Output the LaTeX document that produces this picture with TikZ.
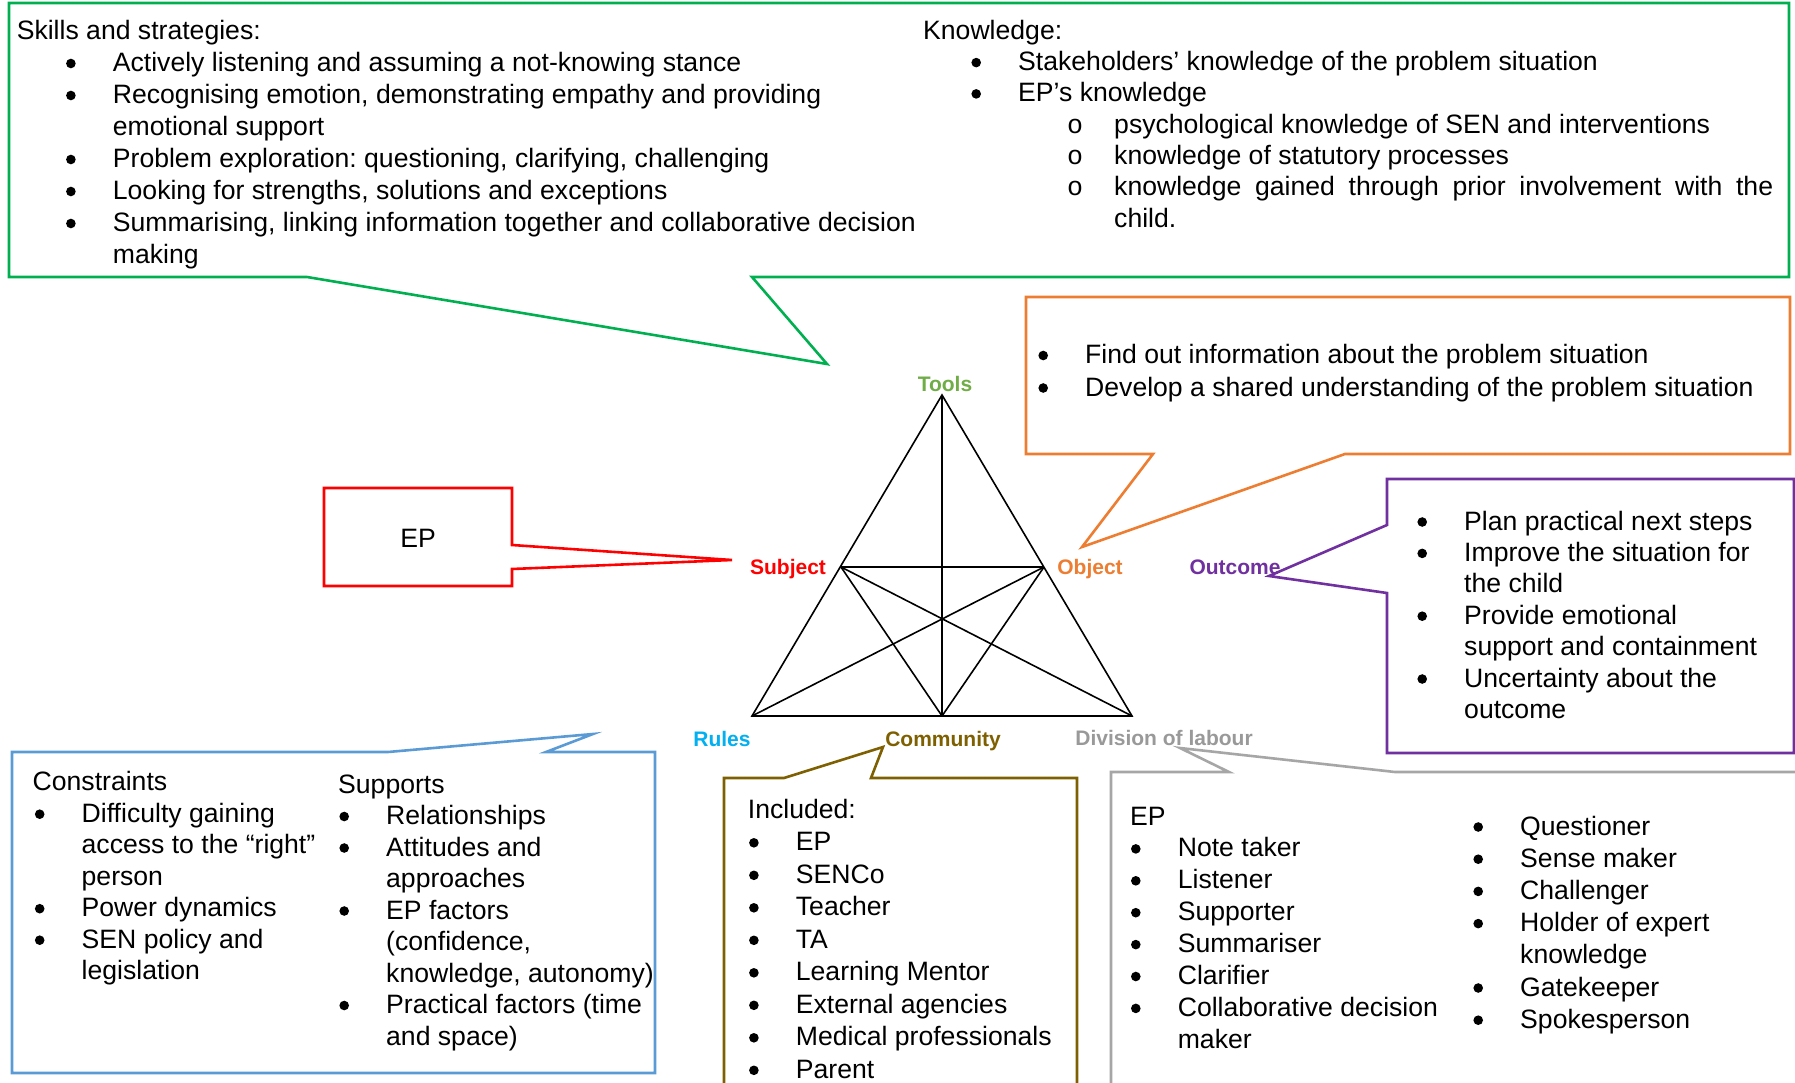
\documentclass[tikz,border=0pt]{standalone}
\usepackage{fontspec}
\setmainfont{Liberation Sans}
\newfontfamily\ringfont{Liberation Mono}
\frenchspacing

% outline and label colours
\definecolor{cgreen}{HTML}{00B050}
\definecolor{ctools}{HTML}{70AD47}
\definecolor{corange}{HTML}{ED7D31}
\definecolor{cred}{HTML}{FF0000}
\definecolor{cpurple}{HTML}{7030A0}
\definecolor{crules}{HTML}{00B0F0}
\definecolor{cblue}{HTML}{5B9BD5}
\definecolor{cbrown}{HTML}{7F6000}
\definecolor{cgrey}{HTML}{A6A6A6}
\definecolor{cgreylbl}{HTML}{999999}

% bullet list helpers: \tind = indent of item text, \sind = indent of sub-item text
\newlength\tind
\newlength\sind
\newcommand{\bltdot}{\tikz[baseline=0pt]\fill (0pt,8pt) circle (4.8pt);}
\newcommand{\ringmark}{{\ringfont o}}
\newcommand{\blt}{\hspace*{\tind}\llap{\makebox[0pt][c]{\bltdot}\hspace*{42pt}}}
\newcommand{\bltcont}{\hspace*{\tind}}
\newcommand{\sublt}{\hspace*{\sind}\llap{\makebox[0pt][c]{\ringmark}\hspace*{39pt}}}
\newcommand{\subcont}{\hspace*{\sind}}

\begin{document}
\begin{tikzpicture}[x=1pt,y=-1pt,
  callout/.style={line width=2.6pt, line join=miter},
  tri/.style={line width=1.6pt, black},
  txt/.style={anchor=base west, inner sep=0pt, font=\fontsize{26.6}{32}\selectfont},
  lbl/.style={anchor=base, inner sep=0pt, font=\fontsize{21}{24}\selectfont\bfseries}]

\useasboundingbox (0,0) rectangle (1795,1083);
\fill[white] (0,0) rectangle (1795,1083);
\clip (0,0) rectangle (1795,1083);

% ---------- callout outlines ----------
\draw[callout, cgreen] (9,3) -- (1789,3) -- (1789,277) -- (752,277) -- (827,364)
  -- (307,277) -- (9,277) -- cycle;
\draw[callout, corange] (1026,297) -- (1790,297) -- (1790,454) -- (1345,454)
  -- (1082,547) -- (1153,454) -- (1026,454) -- cycle;
\draw[callout, cred] (324,488) -- (512,488) -- (512,545) -- (732,560)
  -- (512,569) -- (512,586) -- (324,586) -- cycle;
\draw[callout, cpurple] (1387,479) -- (1794,479) -- (1794,753) -- (1387,753)
  -- (1387,593) -- (1269,576) -- (1387,525) -- cycle;
\draw[callout, cblue] (12,752) -- (388,752) -- (593,734) -- (546,752)
  -- (655,752) -- (655,1073) -- (12,1073) -- cycle;
\draw[callout, cbrown] (724,778) -- (784,778) -- (883,747) -- (871,778)
  -- (1077,778) -- (1077,1110) -- (724,1110) -- cycle;
\draw[callout, cgrey] (1111,772) -- (1229,772) -- (1180,748) -- (1395,772)
  -- (1810,772) -- (1810,1110) -- (1111,1110) -- cycle;

% ---------- activity triangle ----------
\coordinate (T) at (942,395);
\coordinate (S) at (841,567);
\coordinate (O) at (1044,567);
\coordinate (R) at (752,716);
\coordinate (C) at (942,716);
\coordinate (D) at (1132,716);
\draw[tri] (T) -- (R) -- (D) -- cycle;
\draw[tri] (T) -- (C);
\draw[tri] (S) -- (O);
\draw[tri] (S) -- (C);
\draw[tri] (S) -- (D);
\draw[tri] (O) -- (R);
\draw[tri] (O) -- (C);

\node[lbl, ctools]   (lTools) at (945,391)  {Tools};
\node[lbl, cred]     (lSubj)  at (788,574)  {Subject};
\node[lbl, corange]  (lObj)   at (1090,574) {Object};
\node[lbl, cpurple]  (lOut)   at (1235,574) {Outcome};
\node[lbl, crules]   (lRules) at (722,746)  {Rules};
\node[lbl, cbrown]   (lComm)  at (943,746)  {Community};
\node[lbl, cgreylbl] (lDiv)   at (1164,745) {Division of labour};

% ---------- texts ----------
\node[txt] (skills) at (16.6,39.5) {\setlength\tind{96.1pt}%
\begin{tabular}[t]{@{}l@{}}
Skills and strategies:\\
\blt Actively listening and assuming a not-knowing stance\\
\blt Recognising emotion, demonstrating empathy and providing\\
\bltcont emotional support\\
\blt Problem exploration: questioning, clarifying, challenging\\
\blt Looking for strengths, solutions and exceptions\\
\blt Summarising, linking information together and collaborative decision\\
\bltcont making
\end{tabular}};

\node[txt, font=\fontsize{26.6}{31.3}\selectfont] (knowledge) at (923,39.3)
{\setlength\tind{95pt}\setlength\sind{191pt}%
\begin{tabular}[t]{@{}l@{}}
Knowledge:\\
\blt Stakeholders’ knowledge of the problem situation\\
\blt EP’s knowledge\\
\sublt psychological knowledge of SEN and interventions\\
\sublt knowledge of statutory processes\\
\sublt \makebox[659pt][s]{knowledge gained through prior involvement with the}\\
\subcont child.
\end{tabular}};

\node[txt, font=\fontsize{26.6}{32.5}\selectfont] (objtext) at (1038.2,363.5)
{\setlength\tind{46.8pt}%
\begin{tabular}[t]{@{}l@{}}
\blt Find out information about the problem situation\\
\blt Develop a shared understanding of the problem situation
\end{tabular}};

\node[txt] (eptext) at (418,547) [anchor=base] {EP};

\node[txt, font=\fontsize{26.6}{31.4}\selectfont] (outtext) at (1417.2,530)
{\setlength\tind{46.8pt}%
\begin{tabular}[t]{@{}l@{}}
\blt Plan practical next steps\\
\blt Improve the situation for\\
\bltcont the child\\
\blt Provide emotional\\
\bltcont support and containment\\
\blt Uncertainty about the\\
\bltcont outcome
\end{tabular}};

\node[txt, font=\fontsize{26.6}{31.5}\selectfont] (constraints) at (32.5,790.7)
{\setlength\tind{49pt}%
\begin{tabular}[t]{@{}l@{}}
Constraints\\
\blt Difficulty gaining\\
\bltcont access to the “right”\\
\bltcont person\\
\blt Power dynamics\\
\blt SEN policy and\\
\bltcont legislation
\end{tabular}};

\node[txt, font=\fontsize{26.6}{31.5}\selectfont] (supports) at (338,793)
{\setlength\tind{48pt}%
\begin{tabular}[t]{@{}l@{}}
Supports\\
\blt Relationships\\
\blt Attitudes and\\
\bltcont approaches\\
\blt EP factors\\
\bltcont (confidence,\\
\bltcont knowledge, autonomy)\\
\blt Practical factors (time\\
\bltcont and space)
\end{tabular}};

\node[txt, font=\fontsize{26.6}{32.5}\selectfont] (community) at (747.7,818.3)
{\setlength\tind{48pt}%
\begin{tabular}[t]{@{}l@{}}
Included:\\
\blt EP\\
\blt SENCo\\
\blt Teacher\\
\blt TA\\
\blt Learning Mentor\\
\blt External agencies\\
\blt Medical professionals\\
\blt Parent
\end{tabular}};

\node[txt, font=\fontsize{26.6}{31.9}\selectfont] (rolesA) at (1130,825)
{\setlength\tind{47.6pt}%
\begin{tabular}[t]{@{}l@{}}
EP\\
\blt Note taker\\
\blt Listener\\
\blt Supporter\\
\blt Summariser\\
\blt Clarifier\\
\blt Collaborative decision\\
\bltcont maker
\end{tabular}};

\node[txt, font=\fontsize{26.6}{32.2}\selectfont] (rolesB) at (1472.2,835)
{\setlength\tind{47.8pt}%
\begin{tabular}[t]{@{}l@{}}
\blt Questioner\\
\blt Sense maker\\
\blt Challenger\\
\blt Holder of expert\\
\bltcont knowledge\\
\blt Gatekeeper\\
\blt Spokesperson
\end{tabular}};

\end{tikzpicture}
\end{document}
